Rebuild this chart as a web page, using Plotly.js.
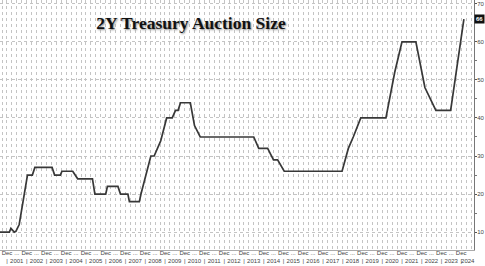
<!DOCTYPE html>
<html><head><meta charset="utf-8">
<script src="https://cdn.plot.ly/plotly-3.0.1.min.js"></script>
<style>html,body{margin:0;padding:0;background:#fff;overflow:hidden}#chart{width:485px;height:266px}</style>
</head><body><div id="chart"></div>
<script>
// 2Y Treasury auction size, $bn (vertices)
const dates = [
 '2000-08-25','2001-02-15','2001-03-15','2001-05-15','2001-06-15','2001-08-15','2002-01-15',
 '2002-04-15','2002-06-01','2003-04-15','2003-06-01','2003-09-15','2003-10-15','2004-05-01',
 '2004-06-15','2004-08-01','2005-05-01','2005-06-15','2006-01-01','2006-02-01','2006-08-15',
 '2006-10-01','2007-02-15','2007-03-15','2007-09-15','2007-10-15','2008-04-15','2008-06-15',
 '2008-08-15','2008-10-15','2009-02-01','2009-05-15','2009-07-15','2009-09-01','2009-10-15',
 '2010-04-15','2010-07-01','2010-10-15','2013-07-01','2013-10-01','2014-03-15','2014-07-01',
 '2014-09-15','2015-01-15','2017-12-20','2018-04-15','2018-07-15','2018-12-01','2020-03-10',
 '2020-08-20','2021-01-01','2021-09-15','2022-03-01','2022-09-20','2023-06-20','2024-02-20'
];
const sizes = [
 10,10,11,10,10.2,12,25,
 25,27,27,25,25,26,26,
 25,24,24,20,20,22,22,
 20,20,18,18,20,30,30,
 32,34,40,40,42,42,44,
 44,38,35,35,32,32,29,
 29,26,26,32,35,40,40,
 52,60,60,48,42,42,66
];
const lastLabel = '66';
const years = [];
for (let y = 2001; y <= 2024; y++) years.push(y);
const yTicks = [10,20,30,40,50,60,70];

const tickvals = [], ticktext = [];
years.forEach(y => {
  tickvals.push(y + '-01-01'); ticktext.push('Dec<br>|');
  if (y < 2024) { tickvals.push(y + '-07-01'); ticktext.push('...<br>' + y); }
  else { tickvals.push(y + '-05-01'); ticktext.push(' <br>' + y); }
});

const gridC = '#c4c4c4';
const trace = {
  x: dates, y: sizes, type: 'scatter', mode: 'lines',
  line: {color: '#383838', width: 1.7}, hoverinfo: 'skip'
};
const layout = {
  width: 485, height: 266,
  margin: {l: 0, r: 11, t: 0, b: 16, pad: 0},
  paper_bgcolor: '#fff', plot_bgcolor: '#fff',
  showlegend: false,
  title: {
    text: '<b>2Y Treasury Auction Size</b>',
    x: 191/485, xanchor: 'center', xref: 'container',
    y: 1 - 23/266, yanchor: 'middle', yref: 'container',
    font: {family: 'Liberation Serif, Times New Roman, serif', size: 17.5, color: '#111',
           shadow: '1px 1px 2px #888'}
  },
  xaxis: {
    type: 'date', range: ['2000-08-25', '2024-08-25'],
    tickmode: 'array', tickvals: tickvals, ticktext: ticktext,
    tickfont: {family: 'Liberation Sans, Arial, sans-serif', size: 6, color: '#444'},
    ticks: '', tickangle: 0, ticklabelstandoff: -3,
    showgrid: false,
    minor: {dtick: 'M3', tick0: '2000-01-01', showgrid: true, gridcolor: gridC, griddash: 'dot', gridwidth: 1},
    showline: true, linecolor: '#aaa', linewidth: 1,
    zeroline: false, fixedrange: true
  },
  yaxis: {
    side: 'right', range: [5.3, 71],
    tickmode: 'array', tickvals: yTicks,
    tickfont: {family: 'Liberation Sans, Arial, sans-serif', size: 6, color: '#444'},
    ticks: 'outside', ticklen: 2, tickcolor: '#555', ticklabelstandoff: -1,
    minor: {dtick: 5, tick0: 0, ticks: 'outside', ticklen: 2, tickcolor: '#777', showgrid: false},
    showgrid: true, gridcolor: gridC, griddash: 'dot', gridwidth: 1,
    showline: true, linecolor: '#777', linewidth: 1,
    zeroline: false, fixedrange: true
  },
  annotations: [{
    xref: 'paper', x: 1, xanchor: 'left', xshift: 0,
    yref: 'y', y: sizes[sizes.length - 1], yanchor: 'middle',
    text: '<b>' + lastLabel + '</b>', showarrow: false,
    font: {family: 'Liberation Sans, Arial, sans-serif', size: 6, color: '#fff'},
    bgcolor: '#111', borderpad: 1
  }]
};
Plotly.newPlot('chart', [trace], layout, {staticPlot: true, displayModeBar: false});
</script>
</body></html>
